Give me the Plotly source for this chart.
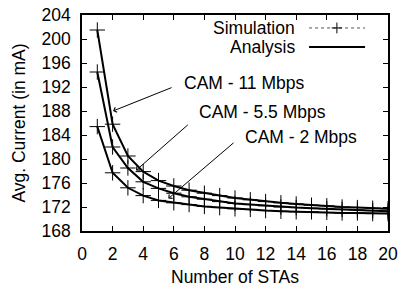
import plotly.graph_objects as go

stas = list(range(1, 21))
cam_11 = [201.5, 185.8, 180.5, 177.9, 176.4, 175.5, 174.8, 174.3, 173.9, 173.5,
          173.2, 172.9, 172.7, 172.5, 172.3, 172.2, 172.0, 171.9, 171.8, 171.7]
cam_55 = [194.5, 182.0, 178.5, 176.2, 175.1, 174.3, 173.7, 173.3, 172.9, 172.6,
          172.4, 172.2, 172.0, 171.9, 171.8, 171.7, 171.6, 171.5, 171.4, 171.3]
cam_2 = [185.4, 177.7, 175.2, 173.9, 173.1, 172.7, 172.4, 172.1, 171.9, 171.7,
         171.6, 171.4, 171.3, 171.2, 171.2, 171.1, 171.0, 171.0, 170.9, 170.9]
x_ticks = list(range(0, 21, 2))
y_ticks = list(range(168, 205, 4))

FONT = "Liberation Sans, Arial, sans-serif"
FS = 17.5

fig = go.Figure()
for ys in (cam_11, cam_55, cam_2):
    fig.add_trace(go.Scatter(x=stas, y=ys, mode="lines",
                             line=dict(color="black", width=2), showlegend=False))
    fig.add_trace(go.Scatter(x=stas, y=ys, mode="markers",
                             marker=dict(symbol="cross-thin", size=11,
                                         line=dict(color="black", width=1)),
                             showlegend=False))

# labels with arrows
labels = [
    ("CAM - 11 Mbps", 0.326, 0.685, (5.95, 192.0), (2.03, 188.0)),
    ("CAM - 5.5 Mbps", 0.375, 0.552, (7.01, 185.9), (3.53, 178.1)),
    ("CAM - 2 Mbps", 0.525, 0.436, (10.0, 182.9), (5.64, 173.4)),
]
for txt, px, py, tail, head in labels:
    fig.add_annotation(text=txt, xref="paper", yref="paper", x=px, y=py,
                       xanchor="left", yanchor="middle", showarrow=False,
                       font=dict(family=FONT, size=FS, color="black"))
    fig.add_annotation(text="", x=head[0], y=head[1], ax=tail[0], ay=tail[1],
                       xref="x", yref="y", axref="x", ayref="y",
                       showarrow=True, arrowhead=4, arrowsize=1, arrowwidth=1,
                       arrowcolor="black", standoff=0, startstandoff=0)

# x-axis title as annotation (keeps it at the reference position)
fig.add_annotation(text="Number of STAs", xref="paper", yref="paper", x=0.5, y=-0.215,
                   xanchor="center", yanchor="middle", showarrow=False,
                   font=dict(family=FONT, size=FS, color="black"))

# manual legend (text left, sample right)
for txt, py in (("Simulation", 0.94), ("Analysis", 0.852)):
    fig.add_annotation(text=txt, xref="paper", yref="paper", x=0.7026, y=py,
                       xanchor="right", yanchor="middle", showarrow=False,
                       font=dict(family=FONT, size=FS, color="black"))
fig.add_shape(type="line", xref="paper", yref="paper", x0=0.742, x1=0.925,
              y0=0.94, y1=0.94, line=dict(color="#555555", width=1, dash="dot"))
fig.add_shape(type="line", xref="paper", yref="paper", x0=0.816, x1=0.850,
              y0=0.94, y1=0.94, line=dict(color="black", width=1))
fig.add_shape(type="line", xref="paper", yref="paper", x0=0.833, x1=0.833,
              y0=0.915, y1=0.965, line=dict(color="black", width=1))
fig.add_shape(type="line", xref="paper", yref="paper", x0=0.742, x1=0.925,
              y0=0.852, y1=0.852, line=dict(color="black", width=2))

axis_common = dict(showline=True, linecolor="black", linewidth=1.5, mirror="ticks",
                   ticks="inside", ticklen=5, tickwidth=1, tickcolor="black",
                   showgrid=False, zeroline=False, automargin=False,
                   tickfont=dict(family=FONT, size=FS, color="black"))
fig.update_xaxes(range=[0, 20], tickvals=x_ticks, ticklabelstandoff=6, **axis_common)
fig.update_yaxes(range=[168, 204], tickvals=y_ticks, ticklabelstandoff=6,
                 title=dict(text="Avg. Current (in mA)", font=dict(family=FONT, size=FS, color="black"), standoff=11),
                 **axis_common)
fig.update_layout(template="none", width=402, height=286,
                  margin=dict(l=82, r=14, t=15, b=55, autoexpand=False),
                  plot_bgcolor="white", paper_bgcolor="white", showlegend=False)
fig.write_html("out.html", config={"displayModeBar": False},
               post_script="document.body.style.margin='0';document.body.style.padding='0';document.body.style.overflow='hidden';")
